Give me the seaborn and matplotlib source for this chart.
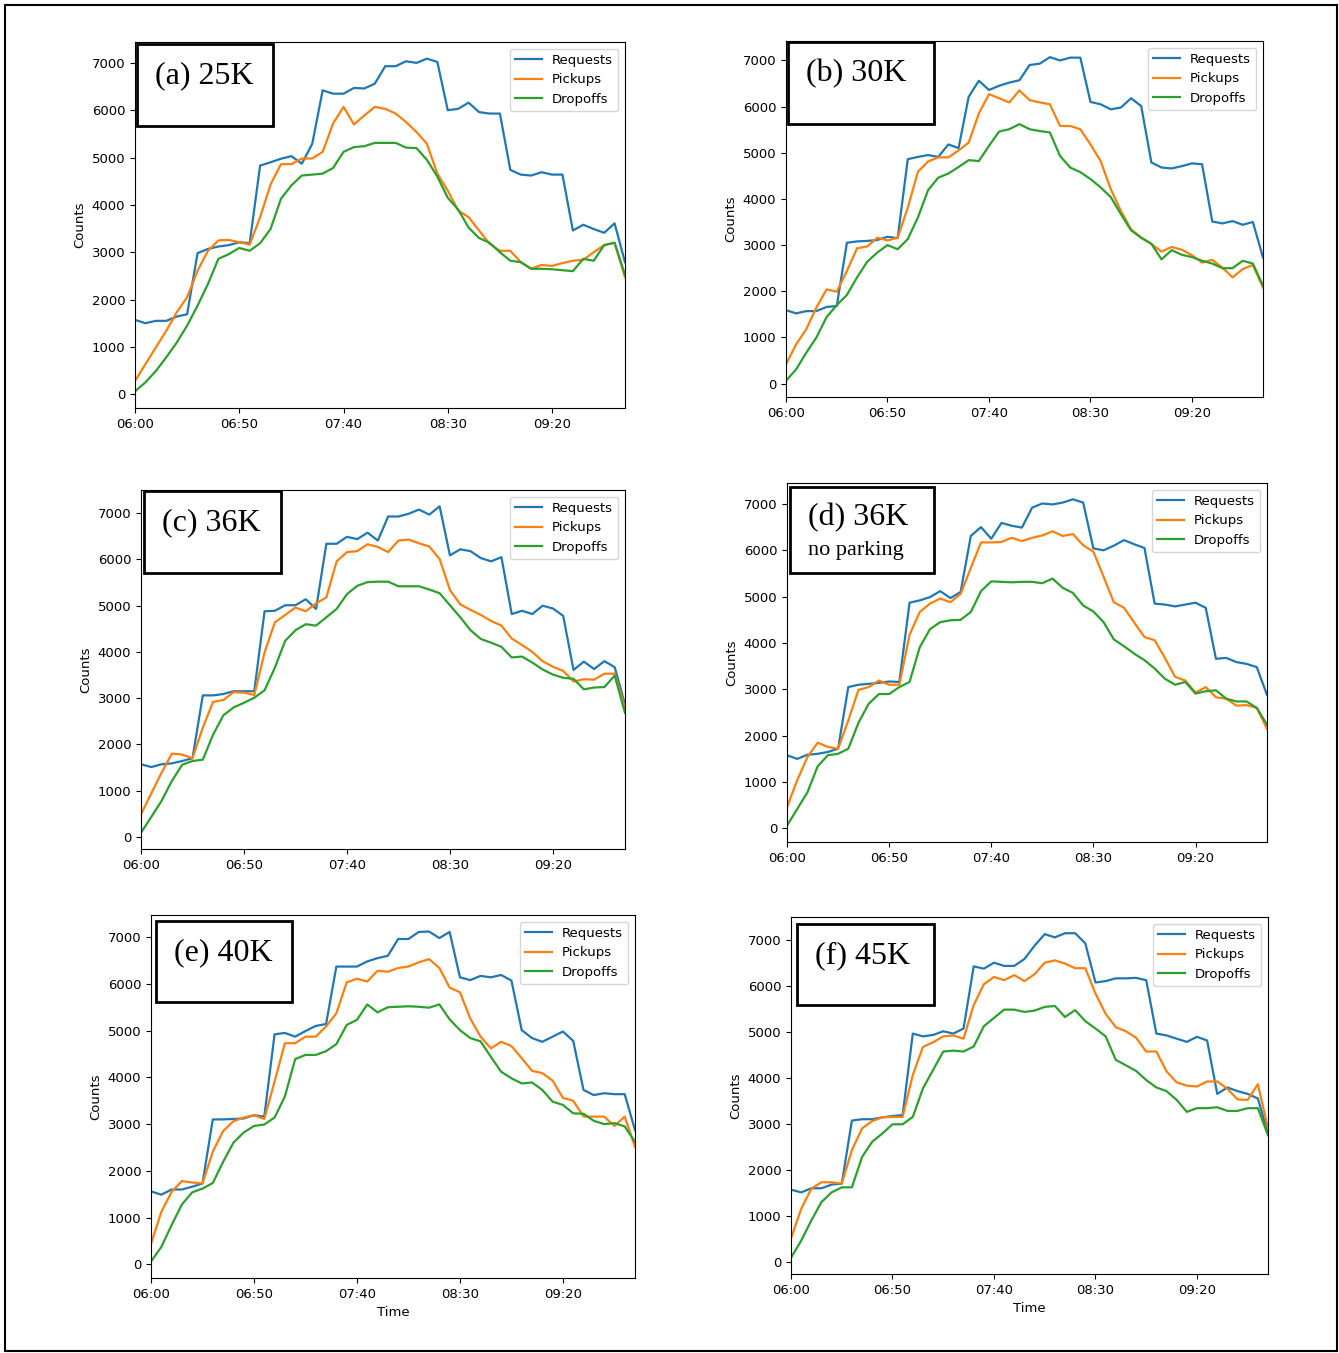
import matplotlib
matplotlib.use("Agg")
import matplotlib.pyplot as plt
import seaborn as sns
import numpy as np
from matplotlib.patches import Rectangle
from matplotlib.ticker import MultipleLocator

# 5-minute steps from 06:00 to 09:55
steps = np.arange(48)
tick_pos = [0, 10, 20, 30, 40]
tick_labels = ["06:00", "06:50", "07:40", "08:30", "09:20"]

req_a = [1570, 1500, 1550, 1550, 1640, 1690, 2980, 3070, 3120, 3150, 3210, 3190,
         4830, 4900, 4975, 5030, 4870, 5290, 6420, 6350, 6350, 6470, 6460, 6560,
         6930, 6930, 7035, 7000, 7090, 7020, 6000, 6030, 6160, 5960, 5930, 5930,
         4740, 4640, 4620, 4690, 4640, 4640, 3460, 3580, 3490, 3410, 3610, 2790]
pick_a = [280, 635, 990, 1340, 1730, 2050, 2610, 3030, 3250, 3260, 3210, 3160,
          3740, 4430, 4860, 4860, 4980, 4980, 5120, 5720, 6070, 5700, 5890, 6070,
          6030, 5930, 5750, 5540, 5290, 4660, 4300, 3880, 3740, 3460, 3180, 3030,
          3030, 2790, 2650, 2730, 2710, 2770, 2820, 2840, 3000, 3150, 3200, 2470]
drop_a = [60, 250, 490, 780, 1090, 1450, 1870, 2330, 2860, 2960, 3090, 3030,
          3190, 3490, 4130, 4410, 4620, 4640, 4660, 4780, 5120, 5220, 5240, 5310,
          5310, 5310, 5210, 5200, 4950, 4600, 4150, 3900, 3520, 3300, 3200, 3000,
          2820, 2790, 2650, 2650, 2640, 2620, 2600, 2860, 2820, 3150, 3200, 2520]

req_b = [1590, 1520, 1570, 1570, 1660, 1680, 3050, 3080, 3090, 3110, 3180, 3150,
         4860, 4910, 4950, 4910, 5180, 5100, 6210, 6560, 6360, 6450, 6520, 6570,
         6900, 6930, 7070, 7000, 7060, 7060, 6100, 6050, 5940, 5980, 6180, 6010,
         4790, 4680, 4660, 4710, 4770, 4750, 3510, 3470, 3520, 3440, 3500, 2730]
pick_b = [420, 850, 1180, 1650, 2040, 1990, 2440, 2930, 2970, 3160, 3100, 3160,
          3810, 4590, 4810, 4900, 4900, 5050, 5220, 5850, 6270, 6180, 6090, 6350,
          6140, 6090, 6050, 5580, 5580, 5510, 5180, 4820, 4210, 3740, 3340, 3160,
          3020, 2860, 2960, 2900, 2780, 2620, 2680, 2510, 2300, 2480, 2570, 2080]
drop_b = [60, 310, 670, 1000, 1440, 1700, 1920, 2300, 2640, 2840, 3000, 2910,
          3130, 3600, 4190, 4460, 4550, 4690, 4840, 4820, 5150, 5460, 5510, 5620,
          5510, 5470, 5440, 4930, 4680, 4580, 4430, 4250, 4040, 3670, 3320, 3160,
          3030, 2690, 2890, 2790, 2740, 2660, 2600, 2500, 2500, 2660, 2600, 2120]

req_c = [1570, 1510, 1570, 1590, 1640, 1700, 3060, 3060, 3090, 3150, 3150, 3150,
         4880, 4890, 5010, 5010, 5140, 4930, 6340, 6340, 6490, 6440, 6580, 6410,
         6930, 6930, 6990, 7080, 6970, 7150, 6090, 6220, 6180, 6030, 5960, 6050,
         4820, 4890, 4820, 5000, 4940, 4780, 3610, 3790, 3630, 3800, 3670, 2860]
pick_c = [490, 940, 1390, 1800, 1780, 1700, 2360, 2920, 2960, 3130, 3120, 3070,
          3990, 4640, 4800, 4960, 4880, 5050, 5180, 5960, 6160, 6180, 6330, 6270,
          6160, 6410, 6430, 6350, 6280, 6010, 5340, 5030, 4910, 4800, 4670, 4570,
          4290, 4150, 4000, 3800, 3680, 3590, 3360, 3410, 3400, 3530, 3530, 2790]
drop_c = [90, 430, 780, 1210, 1560, 1640, 1670, 2210, 2630, 2800, 2900, 3010,
          3170, 3660, 4240, 4470, 4600, 4570, 4750, 4930, 5250, 5430, 5510, 5520,
          5520, 5420, 5420, 5420, 5350, 5270, 5010, 4750, 4470, 4280, 4200, 4110,
          3880, 3900, 3770, 3620, 3510, 3440, 3420, 3190, 3230, 3240, 3490, 2680]

req_d = [1580, 1500, 1590, 1610, 1650, 1720, 3050, 3100, 3120, 3140, 3170, 3160,
         4870, 4920, 4990, 5120, 4970, 5100, 6310, 6500, 6250, 6590, 6530, 6490,
         6920, 7010, 6990, 7030, 7100, 7030, 6040, 6000, 6100, 6220, 6130, 6050,
         4850, 4830, 4790, 4830, 4870, 4760, 3660, 3680, 3590, 3550, 3480, 2880]
pick_d = [460, 1040, 1540, 1850, 1760, 1720, 2330, 2990, 3050, 3190, 3100, 3100,
          4180, 4670, 4850, 4960, 4880, 5060, 5620, 6170, 6170, 6180, 6270, 6200,
          6270, 6320, 6410, 6310, 6350, 6110, 5970, 5430, 4880, 4760, 4440, 4130,
          4060, 3680, 3270, 3190, 2930, 3050, 2830, 2800, 2650, 2660, 2600, 2150]
drop_d = [60, 420, 780, 1340, 1580, 1610, 1720, 2280, 2690, 2900, 2900, 3050,
          3160, 3910, 4300, 4450, 4490, 4500, 4670, 5120, 5330, 5320, 5310, 5320,
          5320, 5290, 5390, 5190, 5080, 4810, 4680, 4450, 4080, 3930, 3770, 3630,
          3450, 3230, 3100, 3160, 2910, 2960, 2980, 2800, 2740, 2740, 2600, 2240]

req_e = [1560, 1490, 1600, 1600, 1660, 1730, 3100, 3100, 3110, 3120, 3190, 3160,
         4920, 4950, 4870, 4990, 5100, 5140, 6370, 6370, 6370, 6480, 6550, 6600,
         6960, 6960, 7110, 7120, 6980, 7110, 6140, 6080, 6170, 6140, 6190, 6070,
         5010, 4840, 4760, 4870, 4980, 4780, 3730, 3620, 3660, 3640, 3640, 2870]
pick_e = [440, 1120, 1550, 1780, 1750, 1730, 2410, 2850, 3060, 3140, 3190, 3110,
          3910, 4730, 4730, 4870, 4870, 5090, 5370, 6030, 6110, 6050, 6280, 6260,
          6340, 6370, 6460, 6530, 6340, 5920, 5820, 5260, 4870, 4620, 4760, 4670,
          4410, 4140, 4090, 3930, 3560, 3500, 3160, 3160, 3160, 2960, 3160, 2510]
drop_e = [60, 370, 840, 1280, 1540, 1620, 1740, 2190, 2600, 2820, 2960, 2990,
          3140, 3590, 4390, 4480, 4480, 4560, 4710, 5120, 5230, 5560, 5390, 5500,
          5510, 5520, 5510, 5490, 5560, 5240, 5010, 4840, 4770, 4440, 4120, 3980,
          3870, 3890, 3730, 3480, 3410, 3230, 3220, 3070, 3000, 3020, 2950, 2620]

req_f = [1570, 1510, 1600, 1600, 1680, 1700, 3070, 3100, 3100, 3140, 3170, 3190,
         4960, 4900, 4930, 5010, 4960, 5070, 6420, 6370, 6500, 6430, 6430, 6580,
         6870, 7120, 7050, 7140, 7140, 6920, 6070, 6100, 6160, 6160, 6170, 6120,
         4960, 4920, 4850, 4780, 4890, 4810, 3650, 3790, 3710, 3650, 3550, 2790]
pick_f = [510, 1150, 1590, 1730, 1730, 1700, 2430, 2900, 3060, 3140, 3150, 3150,
          4060, 4670, 4770, 4900, 4920, 4850, 5580, 6030, 6190, 6120, 6230, 6100,
          6250, 6500, 6550, 6480, 6380, 6380, 5830, 5390, 5100, 5010, 4870, 4570,
          4570, 4140, 3900, 3830, 3810, 3920, 3920, 3760, 3530, 3520, 3860, 2900]
drop_f = [90, 460, 900, 1300, 1510, 1620, 1620, 2280, 2610, 2790, 2990, 2990,
          3150, 3770, 4170, 4570, 4590, 4570, 4680, 5120, 5300, 5480, 5480, 5430,
          5460, 5540, 5560, 5320, 5470, 5230, 5070, 4900, 4390, 4270, 4150, 3950,
          3790, 3710, 3520, 3260, 3340, 3340, 3360, 3280, 3280, 3340, 3340, 2750]

W, H = 1339, 1353
fig = plt.figure(figsize=(W / 100, H / 100), dpi=100)

colors = ["#1f77b4", "#ff7f0e", "#2ca02c"]
names = ["Requests", "Pickups", "Dropoffs"]

# pixel boxes: (left, top, right, bottom), label box (left, top, right, bottom)
panels = [
    ("(a) 25K", "", (req_a, pick_a, drop_a), (135, 42, 625, 408), (137, 44, 273, 126), False),
    ("(b) 30K", "", (req_b, pick_b, drop_b), (786, 41, 1263, 397), (788, 42, 934, 124), False),
    ("(c) 36K", "", (req_c, pick_c, drop_c), (141, 490, 625, 849), (144, 491, 281, 573), False),
    ("(d) 36K", "no parking", (req_d, pick_d, drop_d), (787, 483, 1267, 842), (790, 487, 934, 573), False),
    ("(e) 40K", "", (req_e, pick_e, drop_e), (151, 915, 635, 1278), (156, 921, 292, 1002), True),
    ("(f) 45K", "", (req_f, pick_f, drop_f), (791, 917, 1268, 1274), (797, 924, 934, 1005), True),
]

for title, sub, series, (l, t, r, b), (bl, bt, br, bb), show_time in panels:
    ax = fig.add_axes([l / W, 1 - b / H, (r - l) / W, (b - t) / H])
    for vals, name, c in zip(series, names, colors):
        sns.lineplot(x=steps, y=vals, ax=ax, color=c, label=name, linewidth=1.6)
    ax.set_xlim(0, 47)
    ax.set_xticks(tick_pos)
    ax.set_xticklabels(tick_labels)
    ax.yaxis.set_major_locator(MultipleLocator(1000))
    ax.tick_params(labelsize=9.5)
    ax.set_ylabel("Counts", fontsize=9.5)
    ax.set_xlabel("Time" if show_time else "", fontsize=9.5)
    ax.legend(loc="upper right", fontsize=9.5)

    # label box drawn on top
    fig.add_artist(Rectangle((bl / W, 1 - bb / H), (br - bl) / W, (bb - bt) / H,
                             transform=fig.transFigure, facecolor="white",
                             edgecolor="black", linewidth=2, zorder=5))
    ty = bt + 32 if sub == "" else bt + 31
    fig.text((bl + 18) / W, 1 - ty / H, title, fontsize=23,
             family="Liberation Serif", va="center", ha="left", zorder=6)
    if sub:
        fig.text((bl + 18) / W, 1 - (bt + 63) / H, sub, fontsize=16,
                 family="Liberation Serif", va="center", ha="left", zorder=6)

# outer frame
fig.add_artist(Rectangle((5 / W, 1 - 1351 / H), 1332 / W, 1346 / H,
                         transform=fig.transFigure, fill=False,
                         edgecolor="black", linewidth=1.5))

fig.savefig("out.png", dpi=100)
